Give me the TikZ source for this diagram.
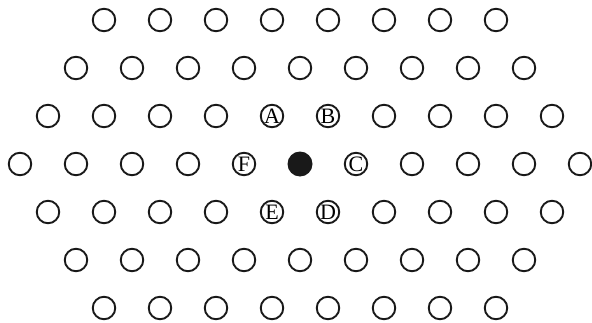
\documentclass[tikz,border=0pt]{standalone}
\usepackage{fontspec}
\setmainfont{Liberation Serif}
\begin{document}
\begin{tikzpicture}[x=1pt,y=1pt,
  hole/.style={circle,draw=black!90,line width=1.9pt,minimum size=22.5pt,inner sep=0pt},
  lab/.style={hole,font=\fontsize{22}{22}\selectfont},
  peg/.style={circle,fill=black!90,minimum size=25pt,inner sep=0pt}]
\useasboundingbox (0,0) rectangle (592,322);
\foreach \r/\n/\cols in {0/8/{0,...,7},1/9/{0,...,8},2/10/{0,1,2,3,6,7,8,9},3/11/{0,1,2,3,7,8,9,10},4/10/{0,1,2,3,6,7,8,9},5/9/{0,...,8},6/8/{0,...,7}}{
  \foreach \i in \cols {
    \node[hole] (h-\r-\i) at ({300-(\n-1)*28+56*\i},{302-48*\r}) {};
  }
}
\node[peg] (P) at (300,158) {};
\node[lab] (A) at (272,206) {A};
\node[lab] (B) at (328,206) {B};
\node[lab] (C) at (356,158) {C};
\node[lab] (D) at (328,110) {D};
\node[lab] (E) at (272,110) {E};
\node[lab] (F) at (244,158) {F};
\end{tikzpicture}
\end{document}
